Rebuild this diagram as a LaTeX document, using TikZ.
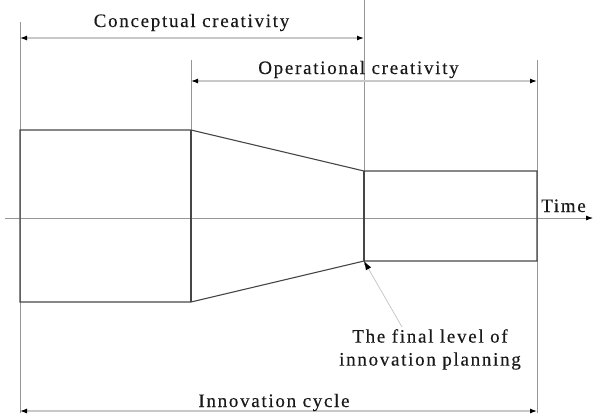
\documentclass[tikz,border=0pt]{standalone}
\usepackage{fontspec}
\setmainfont[LetterSpace=9,FakeBold=0.3]{Liberation Serif}
\usetikzlibrary{arrows.meta}
\definecolor{guide}{RGB}{150,150,150}
\definecolor{dimln}{RGB}{200,200,200}
\definecolor{shape}{RGB}{70,70,70}
\tikzset{
  guideln/.style={draw=guide, line width=0.8pt},
  dimarrow/.style={draw=dimln, line width=1.2pt, {Latex[length=7pt,width=5pt,color=black]}-{Latex[length=7pt,width=5pt,color=black]}},
  outline/.style={draw=shape, line width=1.1pt},
  lbl/.style={font=\fontsize{19}{23}\selectfont, text=black!90, inner sep=0pt, align=center}
}
\begin{document}
\begin{tikzpicture}[x=1pt,y=-1pt]
\useasboundingbox (0,0) rectangle (593,413);
% guide lines
\draw[guideln] (20,22) -- (20,413);
\draw[guideln] (191,60) -- (191,302);
\draw[guideln] (364,0) -- (364,265);
\draw[guideln] (537,60) -- (537,413);
% axis
\coordinate (ax0) at (5,218);
\coordinate (ax1) at (593,218);
\draw[guideln, -{Latex[length=7pt,width=5pt,color=black]}] (ax0) -- (ax1);
\node[lbl, anchor=base west] (time) at (541,212) {Time};
% shape
\coordinate (p1) at (20,130);
\coordinate (p2) at (191,130);
\coordinate (p3) at (364,171);
\coordinate (p4) at (537,171);
\coordinate (p5) at (537,261);
\coordinate (p6) at (364,261);
\coordinate (p7) at (191,302);
\coordinate (p8) at (20,302);
\draw[outline] (p1) -- (p2) -- (p3) -- (p4) -- (p5) -- (p6) -- (p7) -- (p8) -- cycle;
\draw[outline] (p2) -- (p7);
\draw[outline] (p3) -- (p6);
% dimension arrows
\coordinate (c0) at (20,38);
\coordinate (c1) at (364,38);
\draw[dimarrow] (c0) -- (c1);
\node[lbl, anchor=base] (conc) at (191.5,27) {Conceptual creativity};
\coordinate (o0) at (191,81);
\coordinate (o1) at (537,81);
\draw[dimarrow] (o0) -- (o1);
\node[lbl, anchor=base] (oper) at (358.5,74) {Operational creativity};
\coordinate (i0) at (20,411);
\coordinate (i1) at (537,411);
\draw[dimarrow] (i0) -- (i1);
\node[lbl, anchor=base] (cycle) at (274,407) {Innovation cycle};
% final level label
\node[lbl, anchor=north] (final) at (430,329) {The final level of\\innovation planning};
\coordinate (ptr) at (402,327);
\draw[draw=dimln, line width=0.8pt, -{Latex[length=9pt,width=6pt,color=black]}] (ptr) -- (p6);
\end{tikzpicture}
\end{document}
